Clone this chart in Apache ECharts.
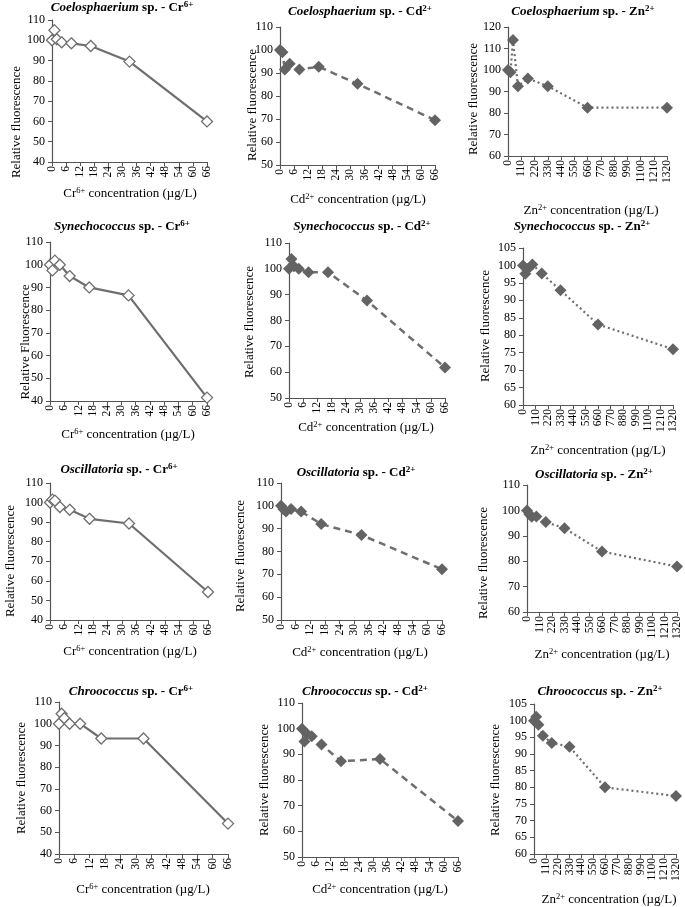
<!DOCTYPE html>
<html>
<head>
<meta charset="utf-8">
<script src="https://cdn.jsdelivr.net/npm/echarts@6/dist/echarts.min.js"></script>
<style>
html,body{margin:0;padding:0;background:#fff;}
#chart{width:685px;height:907px;}
</style>
</head>
<body>
<div id="chart"></div>
<script>
// ---- data ----
const crConc = [0, 1.03, 2.06, 4.125, 8.25, 16.5, 33, 66];
const cdConc = [0, 1.03, 2.06, 4.125, 8.25, 16.5, 33, 66];
const znConc = [0, 20.6, 41.25, 82.5, 165, 330, 660, 1320];

const coelCr = [100, 105, 100.5, 99, 98.5, 97.2, 89.5, 60];
const coelCd = [100, 99, 91.5, 94, 91.5, 92.7, 85.3, 69.5];
const coelZn = [100, 99, 114, 92.5, 96, 92.5, 82.5, 82.5];
const synCr  = [100, 97.5, 101.8, 100, 95, 90, 86.5, 41.5];
const synCd  = [100, 103.8, 101, 100, 98.7, 98.7, 87.7, 61.8];
const synZn  = [100, 97.6, 99, 100.3, 97.7, 92.9, 83.1, 76];
const oscCr  = [100, 101.5, 101, 97.7, 96.3, 91.7, 89.3, 54.3];
const oscCd  = [100, 98.5, 97.5, 98.6, 97.5, 92, 87.2, 72.2];
const oscZn  = [100, 98.5, 97.5, 97.6, 95.4, 93, 83.8, 77.9];
const chrCr  = [100, 104.6, 102.5, 100, 100, 93.2, 93.2, 54];
const chrCd  = [100, 95, 98, 97, 93.8, 87.3, 88.2, 64];
const chrZn  = [100, 101.2, 98.8, 95.5, 93.3, 92.2, 80, 77.4];

const species = ['Coelosphaerium', 'Synechococcus', 'Oscillatoria', 'Chroococcus'];
const metals = ['Cr', 'Cd', 'Zn'];
const charges = ['6+', '2+', '2+'];
const concs = [crConc, cdConc, znConc];
const values = [
  [coelCr, coelCd, coelZn],
  [synCr, synCd, synZn],
  [oscCr, oscCd, oscZn],
  [chrCr, chrCd, chrZn]
];
// y axis ranges [min, max, interval] per panel
const yRanges = [
  [[40,110,10],[50,110,10],[60,120,10]],
  [[40,110,10],[50,110,10],[60,105,5]],
  [[40,110,10],[50,110,10],[60,110,10]],
  [[40,110,10],[50,110,10],[60,105,5]]
];
const xRanges = [[0,66,6],[0,66,6],[0,1320,110]];
const yNames = [
  ['Relative fluorescence','Relative fluorescence','Relative fluorescence'],
  ['Relative Fluorescence','Relative fluorescence','Relative fluorescence'],
  ['Relative fluorescence','Relative fluorescence','Relative fluorescence'],
  ['Relative fluorescence','Relative fluorescence','Relative fluorescence']
];

// ---- layout (pixels) ----
// grid: [left, top, width, height]
const gridPos = [
  [[52,20,155,142],[280,27,155,138],[508,27,159,129]],
  [[50,242,157,159],[289,243,156,155],[523,248,150,157]],
  [[50,483,158,137],[281,483,161,137],[527,485,150,127]],
  [[59,702,169,152],[302,703,156,154],[534,704,142,150]]
];
// title centre [x, y]
const titlePos = [
  [[122,8],[360,12],[583,12]],
  [[122,227],[362,227],[582,227]],
  [[119,470],[356,473],[594,475]],
  [[131,692],[365,692],[600,692]]
];
// y name centre [x, y]
const yNamePos = [
  [[17,122],[253,105],[474,99]],
  [[26,342],[250,322],[486,326]],
  [[11,561],[241,556],[484,563]],
  [[22,778],[265,780],[496,780]]
];
// x name centre [x, y]
const xNamePos = [
  [[130,194],[358,200],[591,211]],
  [[128,435],[366,428],[598,451]],
  [[130,652],[360,653],[602,655]],
  [[143,890],[380,890],[609,900]]
];

const FONT = '"Liberation Serif","Times New Roman",serif';
const AXIS_COLOR = '#555555';
const LINE_COLOR = '#6e6e6e';
const FILL_COLOR = '#636363';

const richBase = {
  n: {fontFamily: FONT, fontSize: 13, lineHeight: 16, color: '#000'},
  s: {fontFamily: FONT, fontSize: 8.5, lineHeight: 8, verticalAlign: 'top', color: '#000'},
  i: {fontFamily: FONT, fontSize: 13, lineHeight: 16, fontWeight: 'bold', fontStyle: 'italic', color: '#000'},
  b: {fontFamily: FONT, fontSize: 13, lineHeight: 16, fontWeight: 'bold', color: '#000'},
  bs: {fontFamily: FONT, fontSize: 9, lineHeight: 8, verticalAlign: 'top', fontWeight: 'bold', color: '#000'}
};

function textEl(x, y, text, rot) {
  return {
    type: 'text', x: x, y: y, rotation: rot || 0, silent: true,
    style: {
      text: text, rich: richBase,
      align: 'center', verticalAlign: 'middle',
      textAlign: 'center', textVerticalAlign: 'middle',
      fill: '#000', font: '13px ' + FONT
    }
  };
}

const grids = [], xAxes = [], yAxes = [], series = [], graphics = [];
let idx = 0;
for (let r = 0; r < 4; r++) {
  for (let c = 0; c < 3; c++) {
    const g = gridPos[r][c];
    grids.push({left: g[0], top: g[1], width: g[2], height: g[3], containLabel: false});
    const xr = xRanges[c], yr = yRanges[r][c];
    const axisCommon = {
      gridIndex: idx,
      axisLine: {show: true, lineStyle: {color: AXIS_COLOR, width: 1.2}},
      axisTick: {show: true, inside: false, length: 4, lineStyle: {color: AXIS_COLOR, width: 1}},
      splitLine: {show: false}
    };
    xAxes.push(Object.assign({}, axisCommon, {
      type: 'value', min: xr[0], max: xr[1], interval: xr[2],
      axisLabel: {rotate: 90, fontFamily: FONT, fontSize: 11.5, color: '#000', margin: 4,
        showMinLabel: true, showMaxLabel: true, formatter: v => String(v)}
    }));
    yAxes.push(Object.assign({}, axisCommon, {
      type: 'value', min: yr[0], max: yr[1], interval: yr[2],
      axisLabel: {fontFamily: FONT, fontSize: 12, color: '#000', margin: 7, formatter: v => String(v)}
    }));
    const conc = concs[c], vals = values[r][c];
    const data = conc.map((x, i) => [x, vals[i]]);
    let s;
    if (c === 0) {
      s = {
        lineStyle: {color: LINE_COLOR, width: 2.2, type: 'solid'},
        itemStyle: {color: '#ffffff', borderColor: LINE_COLOR, borderWidth: 1.3},
        symbolSize: 11
      };
    } else if (c === 1) {
      s = {
        lineStyle: {color: LINE_COLOR, width: 2.5, type: [7, 5]},
        itemStyle: {color: FILL_COLOR, borderColor: FILL_COLOR, borderWidth: 0},
        symbolSize: 12
      };
    } else {
      s = {
        lineStyle: {color: LINE_COLOR, width: 2.2, type: [2, 3]},
        itemStyle: {color: FILL_COLOR, borderColor: FILL_COLOR, borderWidth: 0},
        symbolSize: 12
      };
    }
    series.push(Object.assign({
      type: 'line', xAxisIndex: idx, yAxisIndex: idx, data: data,
      symbol: 'diamond', showSymbol: true, clip: false, animation: false,
      emphasis: {disabled: true}
    }, s));

    const tp = titlePos[r][c];
    graphics.push(textEl(tp[0], tp[1], '{i|' + species[r] + '}{b| sp. - ' + metals[c] + '}{bs|' + charges[c] + '}'));
    const yp = yNamePos[r][c];
    graphics.push(textEl(yp[0], yp[1], '{n|' + yNames[r][c] + '}', Math.PI / 2));
    const xp = xNamePos[r][c];
    graphics.push(textEl(xp[0], xp[1], '{n|' + metals[c] + '}{s|' + charges[c] + '}{n| concentration (µg/L)}'));
    idx++;
  }
}

const chart = echarts.init(document.getElementById('chart'), null, {renderer: 'canvas'});
chart.setOption({
  animation: false,
  backgroundColor: '#ffffff',
  grid: grids, xAxis: xAxes, yAxis: yAxes, series: series,
  graphic: {elements: graphics}
});
</script>
</body>
</html>
